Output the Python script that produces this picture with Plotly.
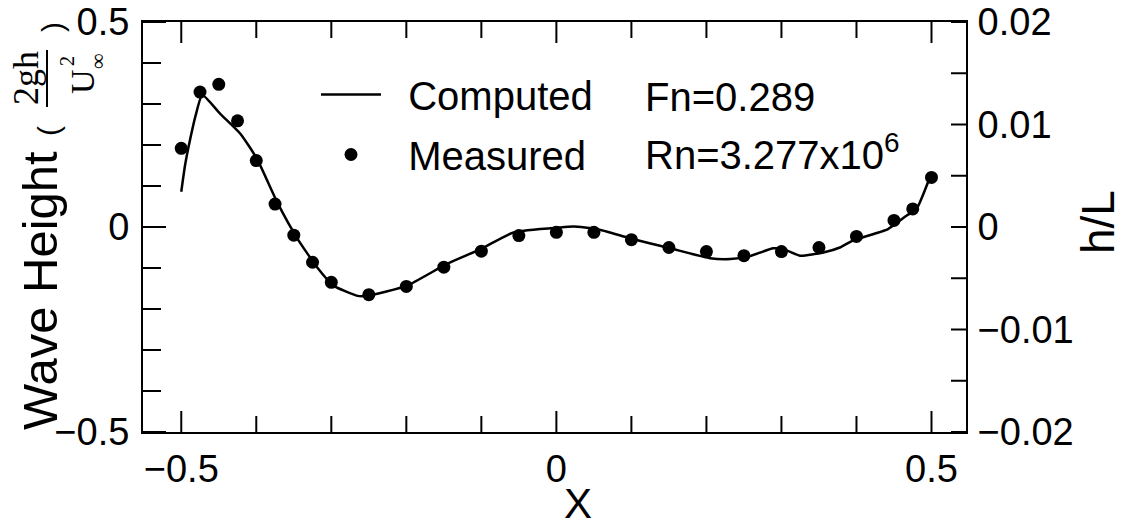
import plotly.graph_objects as go

# Measured wave height (2gh/U^2) vs x
meas_x = [-0.5, -0.475, -0.45, -0.425, -0.4, -0.375, -0.35, -0.325, -0.3, -0.25, -0.2, -0.15,
          -0.1, -0.05, 0.0, 0.05, 0.1, 0.15, 0.2, 0.25, 0.3, 0.35, 0.4, 0.45, 0.475, 0.5]
meas_y = [0.192, 0.329, 0.348, 0.259, 0.162, 0.056, -0.020, -0.086, -0.135, -0.165, -0.145, -0.098,
          -0.059, -0.021, -0.013, -0.013, -0.031, -0.050, -0.060, -0.070, -0.060, -0.050, -0.023,
          0.016, 0.044, 0.121]

# Computed curve
comp_x = [-0.5, -0.495, -0.488, -0.481, -0.472, -0.448, -0.421, -0.399, -0.372, -0.345, -0.319,
          -0.297, -0.265, -0.252, -0.199, -0.146, -0.101, -0.057, 0.005, 0.023, 0.054, 0.099,
          0.152, 0.205, 0.232, 0.258, 0.289, 0.303, 0.325, 0.356, 0.378, 0.395, 0.442, 0.467,
          0.48, 0.497]
comp_y = [0.086, 0.150, 0.215, 0.271, 0.322, 0.276, 0.227, 0.166, 0.060, -0.029, -0.098,
          -0.143, -0.168, -0.168, -0.143, -0.090, -0.054, -0.013, -0.001, 0.001, -0.005, -0.028,
          -0.052, -0.076, -0.078, -0.071, -0.052, -0.054, -0.070, -0.062, -0.050, -0.033, -0.005,
          0.028, 0.044, 0.117]

x_ticks = [-0.5, 0.0, 0.5]
x_minor = [-0.4, -0.3, -0.2, -0.1, 0.1, 0.2, 0.3, 0.4]
y_ticks = [-0.5, 0.0, 0.5]
y_minor = [-0.4, -0.3, -0.2, -0.1, 0.1, 0.2, 0.3, 0.4]
y2_ticks = [-0.02, -0.01, 0.0, 0.01, 0.02]
y2_minor = [-0.015, -0.005, 0.005, 0.015]

X_RANGE = [-0.551, 0.546]
Y_RANGE = [-0.5, 0.5]
Y2_RANGE = [-0.02, 0.02]

FONT = "Liberation Sans, Arial, sans-serif"
SERIF = "Liberation Serif, Times New Roman, serif"

fig = go.Figure()
fig.add_trace(go.Scatter(x=comp_x, y=comp_y, mode="lines", name="\u00a0\u00a0Computed",
                         line=dict(color="black", width=2.5, shape="spline", smoothing=0.5),
                         legendgroup="a"))
fig.add_trace(go.Scatter(x=meas_x, y=meas_y, mode="markers", name="\u00a0\u00a0Measured",
                         marker=dict(color="black", size=13), legendgroup="b"))
# empty trace so that the secondary (h/L) axis is drawn
fig.add_trace(go.Scatter(x=[None], y=[None], yaxis="y2", showlegend=False, hoverinfo="skip"))

W, H = 1134, 530
L, R, T, B = 143, 168, 22, 98
pw, ph = W - L - R, H - T - B


def px(x):
    return (x - L) / pw


def py(y):
    return (H - B - y) / ph


common = dict(ticks="", showline=True, linewidth=2, linecolor="black", automargin=False,
              showgrid=False, zeroline=False, tickmode="array",
              tickfont=dict(size=38, family=FONT, color="black"))

fig.update_layout(
    width=W, height=H,
    margin=dict(l=L, r=R, t=T, b=B, autoexpand=False),
    paper_bgcolor="white", plot_bgcolor="white",
    font=dict(family=FONT, color="black", size=38),
    showlegend=True,
    legend=dict(x=px(316), y=py(62), xanchor="left", yanchor="top",
                font=dict(size=40, family=FONT), itemwidth=60,
                traceorder="grouped", tracegroupgap=5, bgcolor="rgba(0,0,0,0)"),
    xaxis=dict(range=X_RANGE, tickvals=x_ticks, mirror=True, ticklabelstandoff=2, **common),
    yaxis=dict(range=Y_RANGE, tickvals=y_ticks, ticklabelstandoff=4, **common),
    yaxis2=dict(range=Y2_RANGE, overlaying="y", side="right", tickvals=y2_ticks,
                ticklabelstandoff=2, **common),
)

# Tick marks (inside), placed through the axes' own scales
tick_line = dict(color="black", width=2)
for v in x_ticks + x_minor:
    n = 21 if v in x_ticks else 16
    fig.add_shape(type="line", xref="x", yref="paper", x0=v, x1=v, y0=0, y1=n / ph, line=tick_line)
    fig.add_shape(type="line", xref="x", yref="paper", x0=v, x1=v, y0=1, y1=1 - n / ph, line=tick_line)
for v in y_ticks + y_minor:
    n = 23 if v in y_ticks else 18
    fig.add_shape(type="line", xref="paper", yref="y", x0=0, x1=n / pw, y0=v, y1=v, line=tick_line)
for v in y2_ticks + y2_minor:
    fig.add_shape(type="line", xref="paper", yref="y2", x0=1, x1=1 - 15 / pw, y0=v, y1=v, line=tick_line)

ann = []
# Axis titles
ann.append(dict(text="X", x=px(578), y=py(503), xref="paper", yref="paper", showarrow=False,
                font=dict(size=42), xanchor="center", yanchor="middle"))
ann.append(dict(text="h/L", x=px(1098), y=py(222), xref="paper", yref="paper", showarrow=False,
                font=dict(size=46), textangle=-90, xanchor="center", yanchor="middle"))
ann.append(dict(text="Wave Height", x=px(40), y=py(290), xref="paper", yref="paper", showarrow=False,
                font=dict(size=49), textangle=-90, xanchor="center", yanchor="middle"))
ann.append(dict(text="(", x=px(48), y=py(131), xref="paper", yref="paper", showarrow=False,
                font=dict(size=30), textangle=-90, xanchor="center", yanchor="middle"))
ann.append(dict(text=")", x=px(52), y=py(27), xref="paper", yref="paper", showarrow=False,
                font=dict(size=30), textangle=-90, xanchor="center", yanchor="middle"))
ann.append(dict(text="2gh", x=px(26), y=py(78), xref="paper", yref="paper", showarrow=False,
                font=dict(size=36, family=SERIF), textangle=-90, xanchor="center", yanchor="middle"))
ann.append(dict(text="U", x=px(82), y=py(82), xref="paper", yref="paper", showarrow=False,
                font=dict(size=34, family=SERIF), textangle=-90, xanchor="center", yanchor="middle"))
ann.append(dict(text="\u221e", x=px(98), y=py(61), xref="paper", yref="paper", showarrow=False,
                font=dict(size=22, family=SERIF), textangle=-90, xanchor="center", yanchor="middle"))
ann.append(dict(text="2", x=px(67), y=py(61), xref="paper", yref="paper", showarrow=False,
                font=dict(size=20, family=SERIF), textangle=-90, xanchor="center", yanchor="middle"))
# Parameter text
ann.append(dict(text="Fn=0.289", x=px(643), y=py(97), xref="paper", yref="paper", showarrow=False,
                font=dict(size=40), xanchor="left", yanchor="middle"))
ann.append(dict(text="Rn=3.277x10<sup>6</sup>", x=px(643), y=py(152), xref="paper", yref="paper",
                showarrow=False, font=dict(size=40), xanchor="left", yanchor="middle"))
fig.update_layout(annotations=ann)

fig.add_shape(type="line", xref="paper", yref="paper", x0=px(47), x1=px(47), y0=py(50), y1=py(107),
              line=dict(color="black", width=2))

fig.write_html("out.html", config={"displayModeBar": False},
               post_script="document.body.style.margin='0';")
